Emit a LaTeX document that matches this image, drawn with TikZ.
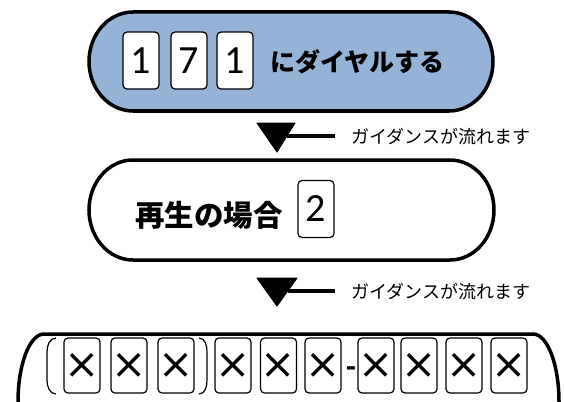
\documentclass[tikz,border=0pt]{standalone}
\usepackage{fontspec}
\newfontfamily\jp{Noto Sans CJK JP}
\newfontfamily\dig{Carlito}
\newfontfamily\crossfont{DejaVu Sans}
\definecolor{pillblue}{RGB}{149,179,215}
\tikzset{
  pill/.style={draw=black, line width=3.5pt},
  digitbox/.style={draw=black, line width=1.2pt, rounded corners=4pt, fill=white,
    minimum width=36pt, minimum height=57pt, inner sep=0pt, font=\dig\fontsize{40}{40}\selectfont},
  crossbox/.style={digitbox, minimum height=55pt, font=\crossfont\fontsize{42}{42}\selectfont},
  bigjp/.style={anchor=base west, inner sep=0pt, font=\jp\bfseries\fontsize{25}{25}\selectfont},
  midjp/.style={anchor=base west, inner sep=0pt, font=\jp\bfseries\fontsize{29.5}{29.5}\selectfont},
  guide/.style={anchor=base west, inner sep=0pt, font=\jp\fontsize{18}{18}\selectfont},
  tri/.style={fill=black, draw=black, line width=1pt, line join=round},
  pointer/.style={draw=black, line width=3.5pt},
  paren/.style={draw=black, line width=1.2pt},
}
\begin{document}
\begin{tikzpicture}[x=1pt, y=-1pt]
\useasboundingbox (0,0) rectangle (564,401);
\begin{scope}
\clip (0,0) rectangle (564,401);
% top pill
\path[pill, fill=pillblue] (133,12) -- (449,12)
  arc[start angle=-90, end angle=90, x radius=44, y radius=49.5]
  -- (133,111) arc[start angle=90, end angle=270, x radius=44, y radius=49.5] -- cycle;
% middle pill
\path[pill, fill=white] (133,160) -- (450,160)
  arc[start angle=-90, end angle=90, x radius=44, y radius=50]
  -- (133,260) arc[start angle=90, end angle=270, x radius=44, y radius=50] -- cycle;
% bottom pill
\path[pill, fill=white] (44,334) -- (533,334)
  arc[start angle=-90, end angle=90, x radius=26, y radius=68]
  -- (44,470) arc[start angle=90, end angle=270, x radius=26, y radius=68] -- cycle;
\end{scope}

% top pill content
\node[digitbox] (d1) at (141,60.5) {1};
\node[digitbox] (d2) at (189,60.5) {7};
\node[digitbox] (d3) at (235,60.5) {1};
\node[bigjp] (dial) at (270,71.5) {にダイヤルする};

% guidance 1
\path[tri] (257,123) -- (295,123) -- (277,152) -- cycle;
\coordinate (t1) at (287,136);
\node[guide] (g1) at (351,143) {ガイダンスが流れます};
\draw[pointer] (t1) -- (335,136);

% middle pill content
\node[midjp] (play) at (135,226) {再生の場合};
\node[digitbox] (d4) at (316,209) {2};

% guidance 2
\path[tri] (257,278) -- (297,278) -- (277,306) -- cycle;
\coordinate (t2) at (288,291);
\node[guide] (g2) at (351,298) {ガイダンスが流れます};
\draw[pointer] (t2) -- (335,291);

% bottom pill content
\draw[paren] (56,338) to[out=180,in=90] (47,352) -- (47,380) to[out=-90,in=180] (56,394);
\foreach \n/\x in {1/82,2/129,3/176,4/233,5/278.5,6/323,7/376,8/419,9/464,10/509}{
  \node[crossbox] (x\n) at (\x,365.5) {×};
}
\draw[paren] (199,338) to[out=0,in=90] (207,352) -- (207,380) to[out=-90,in=0] (199,394);
\node[anchor=base, inner sep=0pt, font=\dig\bfseries\fontsize{32}{32}\selectfont] (dash) at (351,377.5) {-};
\end{tikzpicture}
\end{document}
